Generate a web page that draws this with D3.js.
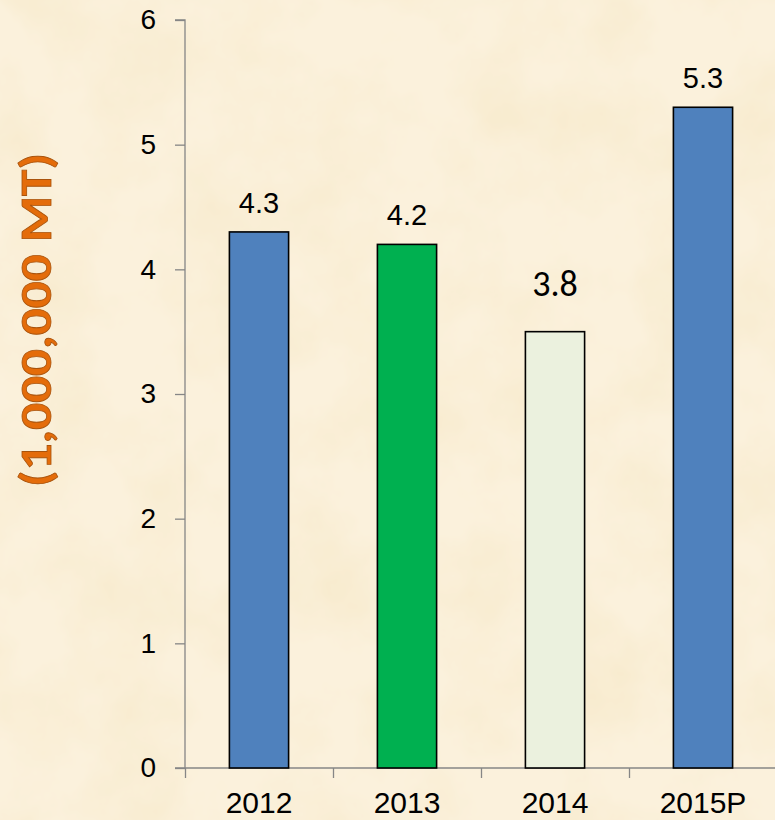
<!DOCTYPE html>
<html>
<head>
<meta charset="utf-8">
<script src="https://cdn.jsdelivr.net/npm/d3@7"></script>
<style>
  html, body { margin: 0; padding: 0; background: #f8ead0; }
  svg { display: block; }
  .axis path, .axis line { stroke: #868686; stroke-width: 1.3; }
  .axis text { fill: #000; font-family: "Liberation Sans", Arial, sans-serif; font-size: 28px; }
  .val { font-family: "Liberation Sans", Arial, sans-serif; font-size: 29px; fill: #000; }
</style>
</head>
<body>
<svg id="chart"></svg>
<script>
const categories = ["2012", "2013", "2014", "2015P"];
const values = [4.3, 4.2, 3.5, 5.3];
const labels = ["4.3", "4.2", "3.8", "5.3"];
const colors = ["#4f81bd", "#00b050", "#ebf1de", "#4f81bd"];
const yTicks = [0, 1, 2, 3, 4, 5, 6];

const width = 775, height = 820;
const margin = { top: 20, right: -4, bottom: 52, left: 185 };

const svg = d3.select("#chart").attr("width", width).attr("height", height);

// parchment background
const defs = svg.append("defs");
const f = defs.append("filter").attr("id", "paper").attr("x", 0).attr("y", 0).attr("width", 1).attr("height", 1);
f.append("feTurbulence").attr("type", "fractalNoise").attr("baseFrequency", 0.011).attr("numOctaves", 5).attr("seed", 7);
f.append("feColorMatrix").attr("type", "matrix")
  .attr("values", "0 0 0 0 0.92  0 0 0 0 0.8  0 0 0 0 0.56  0 0 0 1.1 -0.4");
svg.append("rect").attr("width", width).attr("height", height).attr("fill", "#fbf1dc");
svg.append("rect").attr("width", width).attr("height", height).attr("filter", "url(#paper)");

const x = d3.scaleBand()
  .domain(categories)
  .range([margin.left, margin.left + 148 * 4])
  .paddingInner(0.6)
  .paddingOuter(0.3);

const y = d3.scaleLinear()
  .domain([0, 6])
  .range([height - margin.bottom, margin.top]);

// y axis
svg.append("g")
  .attr("class", "axis")
  .attr("transform", `translate(${margin.left},0)`)
  .call(d3.axisLeft(y).tickValues(yTicks).tickFormat(d3.format("d")).tickSize(10).tickPadding(19))
  .call(g => g.select(".domain").attr("d", `M-10,${y(6)}H0V${y(0)}`));

// x axis
const xs = d3.scaleLinear().domain([0, 4]).range([margin.left, margin.left + 148 * 4]);
svg.append("g")
  .attr("class", "axis")
  .attr("transform", `translate(0,${y(0)})`)
  .call(d3.axisBottom(xs).tickValues([0, 1, 2, 3, 4]).tickSize(10).tickFormat(""))
  .call(g => g.select(".domain").attr("d", `M${margin.left - 10},0H${width}`));

svg.append("g")
  .selectAll("text")
  .data(categories)
  .join("text")
  .attr("class", "val")
  .style("font-size", "30px")
  .attr("x", d => x(d) + x.bandwidth() / 2)
  .attr("y", y(0) + 45)
  .attr("text-anchor", "middle")
  .text(d => d);

// bars
svg.append("g")
  .selectAll("rect")
  .data(values)
  .join("rect")
  .attr("x", (d, i) => x(categories[i]))
  .attr("y", d => y(d))
  .attr("width", x.bandwidth())
  .attr("height", d => y(0) - y(d))
  .attr("fill", (d, i) => colors[i])
  .attr("stroke", "#000")
  .attr("stroke-width", 1.6);

// value labels, the 2014 one is in a different font and sits higher
svg.append("g")
  .selectAll("text")
  .data(values)
  .join("text")
  .attr("class", "val")
  .attr("x", (d, i) => x(categories[i]) + x.bandwidth() / 2)
  .attr("y", (d, i) => i === 2 ? y(d) - 36 : y(d) - 19)
  .attr("text-anchor", "middle")
  .style("font-family", (d, i) => i === 2 ? "Carlito, Calibri, Lato, sans-serif" : null)
  .style("font-size", (d, i) => i === 2 ? "36px" : null)
  .text((d, i) => labels[i]);

// y axis title
svg.append("text")
  .attr("transform", `translate(51, 320) rotate(-90)`)
  .attr("text-anchor", "middle")
  .attr("textLength", 334)
  .attr("lengthAdjust", "spacingAndGlyphs")
  .style("font-family", "Carlito, Calibri, Lato, sans-serif")
  .style("font-weight", "bold")
  .style("font-size", "45px")
  .attr("fill", "#e46c0a")
  .attr("stroke", "#a9530c")
  .attr("stroke-width", 0.8)
  .text("(1,000,000 MT)");
</script>
</body>
</html>
